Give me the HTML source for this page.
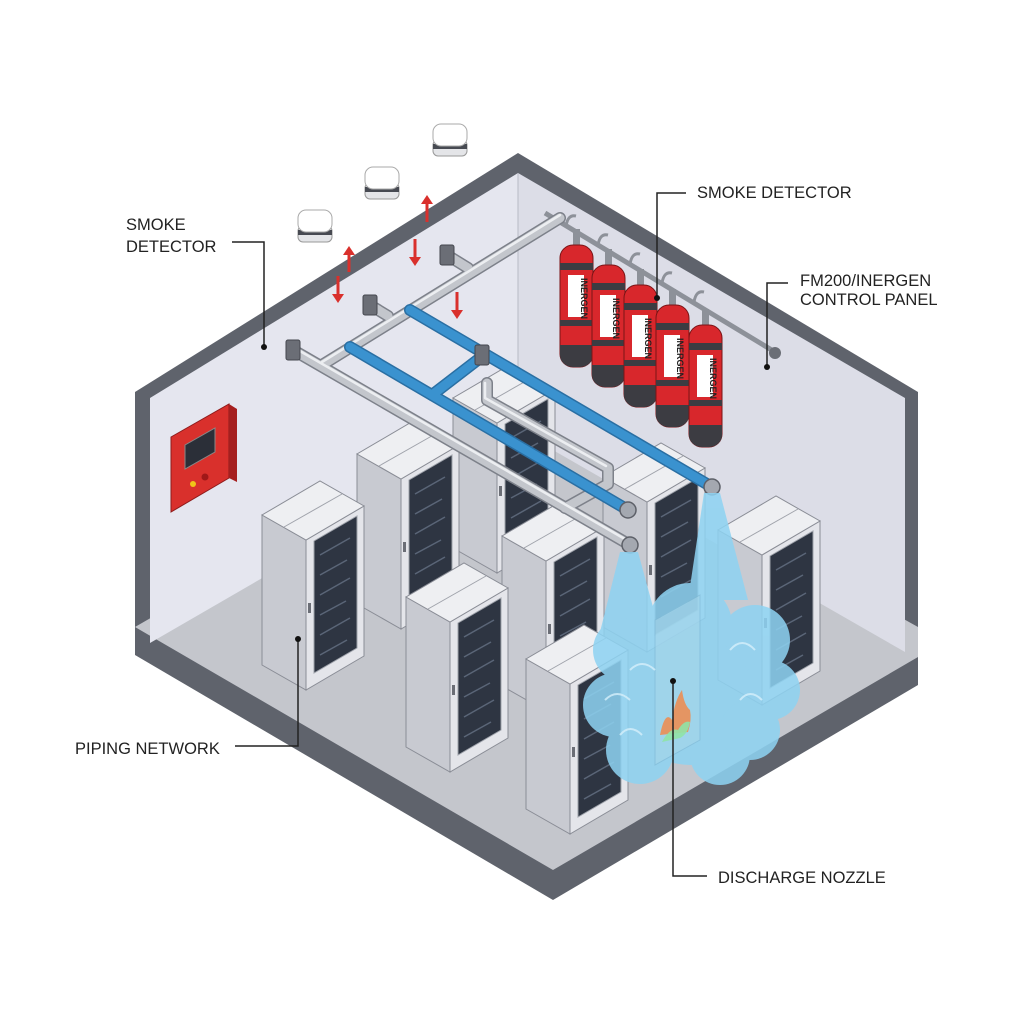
<!DOCTYPE html>
<html><head><meta charset="utf-8"><style>
html,body{margin:0;padding:0;background:#fff;}
svg{display:block;}
text{font-family:"Liberation Sans",sans-serif;fill:#222;}
</style></head><body>
<svg width="1024" height="1024" viewBox="0 0 1024 1024" xmlns="http://www.w3.org/2000/svg">
<defs>
<g id="rack">
  <polygon points="0,0 44,25 44,175 0,150" fill="#c8cad1" stroke="#8a8d96" stroke-width="1"/>
  <polygon points="44,25 102,-9 102,141 44,175" fill="#e4e5ea" stroke="#8a8d96" stroke-width="1"/>
  <polygon points="52,26 95,1 95,133 52,158" fill="#2e3542" stroke="#9ea2aa" stroke-width="1"/>
  <g stroke="#5a6577" stroke-width="1.5">
    <line x1="58" y1="40" x2="88" y2="23"/><line x1="58" y1="60" x2="85" y2="45"/>
    <line x1="58" y1="80" x2="88" y2="63"/><line x1="58" y1="100" x2="84" y2="86"/>
    <line x1="58" y1="120" x2="88" y2="103"/><line x1="58" y1="140" x2="85" y2="125"/>
  </g>
  <polygon points="0,0 44,25 102,-9 58,-34" fill="#eeeff2" stroke="#8a8d96" stroke-width="1"/>
  <line x1="22" y1="12" x2="80" y2="-21" stroke="#a0a3ab" stroke-width="1"/>
  <rect x="46" y="88" width="3" height="10" fill="#6b6e76"/>
</g>
</defs>

<!-- room shell -->
<polygon points="135,392 518,153 918,392 918,685 553,900 135,655" fill="#5f636c"/>
<polygon points="135,627 520,405 918,627 918,657 553,870" fill="#c4c6cc"/>
<polygon points="150,398 518,173 518,430 150,643" fill="#e5e6ef"/>
<polygon points="518,173 905,398 905,652 518,430" fill="#dcdde7"/>
<line x1="518" y1="173" x2="518" y2="430" stroke="#b8bac4" stroke-width="1"/>

<!-- control panel -->
<polygon points="171,437 229,404 229,478 171,512" fill="#d9302c" stroke="#8e1b1b" stroke-width="1"/>
<polygon points="229,404 237,409 237,482 229,478" fill="#a51f1f"/>
<polygon points="185,445 215,428 215,452 185,469" fill="#2b2f38" stroke="#888" stroke-width="1"/>
<circle cx="193" cy="484" r="3" fill="#f0c419"/>
<circle cx="205" cy="477" r="3.5" fill="#a01818"/>

<!-- racks -->
<use href="#rack" transform="translate(453,398)"/>
<use href="#rack" transform="translate(357,454)"/>
<use href="#rack" transform="translate(603,477)"/>
<use href="#rack" transform="translate(262,515)"/>
<use href="#rack" transform="translate(502,536)"/>
<use href="#rack" transform="translate(718,530)"/>
<use href="#rack" transform="translate(406,597)"/>
<use href="#rack" transform="translate(526,659)"/>

<!-- manifold -->
<g stroke="#8d9199" fill="none">
  <line x1="545" y1="213" x2="775" y2="352" stroke-width="5"/>
  <path d="M566 226 q2 -12 10 -10 M598 245 q2 -12 10 -10 M630 264 q2 -12 10 -10 M662 283 q2 -12 10 -10 M694 302 q2 -12 10 -10" stroke-width="3"/>
</g>
<circle cx="775" cy="353" r="6" fill="#6b6e76"/>

<!-- cylinders -->
<g>
  <g transform="translate(560,245)">
    <rect x="13" y="-16" width="7" height="18" fill="#8d9199"/>
    <rect x="0" y="0" width="33" height="122" rx="13" fill="#d8272c" stroke="#7a1416"/>
    <rect x="0" y="18" width="33" height="7" fill="#3c3c42"/><rect x="0" y="75" width="33" height="6" fill="#3c3c42"/>
    <path d="M0 100 h33 v10 a13 12 0 0 1 -13 12 h-7 a13 12 0 0 1 -13 -12z" fill="#3c3c42"/>
    <rect x="8" y="30" width="16" height="42" fill="#fff"/>
    <text transform="translate(21,33) rotate(90)" font-size="9" font-weight="bold" style="fill:#222">INERGEN</text>
  </g>
  <g transform="translate(592,265)">
    <rect x="13" y="-16" width="7" height="18" fill="#8d9199"/>
    <rect x="0" y="0" width="33" height="122" rx="13" fill="#d8272c" stroke="#7a1416"/>
    <rect x="0" y="18" width="33" height="7" fill="#3c3c42"/><rect x="0" y="75" width="33" height="6" fill="#3c3c42"/>
    <path d="M0 100 h33 v10 a13 12 0 0 1 -13 12 h-7 a13 12 0 0 1 -13 -12z" fill="#3c3c42"/>
    <rect x="8" y="30" width="16" height="42" fill="#fff"/>
    <text transform="translate(21,33) rotate(90)" font-size="9" font-weight="bold" style="fill:#222">INERGEN</text>
  </g>
  <g transform="translate(624,285)">
    <rect x="13" y="-16" width="7" height="18" fill="#8d9199"/>
    <rect x="0" y="0" width="33" height="122" rx="13" fill="#d8272c" stroke="#7a1416"/>
    <rect x="0" y="18" width="33" height="7" fill="#3c3c42"/><rect x="0" y="75" width="33" height="6" fill="#3c3c42"/>
    <path d="M0 100 h33 v10 a13 12 0 0 1 -13 12 h-7 a13 12 0 0 1 -13 -12z" fill="#3c3c42"/>
    <rect x="8" y="30" width="16" height="42" fill="#fff"/>
    <text transform="translate(21,33) rotate(90)" font-size="9" font-weight="bold" style="fill:#222">INERGEN</text>
  </g>
  <g transform="translate(656,305)">
    <rect x="13" y="-16" width="7" height="18" fill="#8d9199"/>
    <rect x="0" y="0" width="33" height="122" rx="13" fill="#d8272c" stroke="#7a1416"/>
    <rect x="0" y="18" width="33" height="7" fill="#3c3c42"/><rect x="0" y="75" width="33" height="6" fill="#3c3c42"/>
    <path d="M0 100 h33 v10 a13 12 0 0 1 -13 12 h-7 a13 12 0 0 1 -13 -12z" fill="#3c3c42"/>
    <rect x="8" y="30" width="16" height="42" fill="#fff"/>
    <text transform="translate(21,33) rotate(90)" font-size="9" font-weight="bold" style="fill:#222">INERGEN</text>
  </g>
  <g transform="translate(689,325)">
    <rect x="13" y="-16" width="7" height="18" fill="#8d9199"/>
    <rect x="0" y="0" width="33" height="122" rx="13" fill="#d8272c" stroke="#7a1416"/>
    <rect x="0" y="18" width="33" height="7" fill="#3c3c42"/><rect x="0" y="75" width="33" height="6" fill="#3c3c42"/>
    <path d="M0 100 h33 v10 a13 12 0 0 1 -13 12 h-7 a13 12 0 0 1 -13 -12z" fill="#3c3c42"/>
    <rect x="8" y="30" width="16" height="42" fill="#fff"/>
    <text transform="translate(21,33) rotate(90)" font-size="9" font-weight="bold" style="fill:#222">INERGEN</text>
  </g>
</g>

<!-- pipes -->
<g fill="none" stroke-linecap="round" stroke-linejoin="round">
  <g stroke="#7d818a" stroke-width="12">
    <path d="M293 350 L630 545"/><path d="M322 365 L560 218"/>
    <path d="M370 305 L388 316"/><path d="M447 255 L468 268"/>
    <path d="M487 383 L487 400 L608 468 L608 484 L565 508"/>
  </g>
  <g stroke="#c3c6cc" stroke-width="9">
    <path d="M293 350 L630 545"/><path d="M322 365 L560 218"/>
    <path d="M370 305 L388 316"/><path d="M447 255 L468 268"/>
    <path d="M487 383 L487 400 L608 468 L608 484 L565 508"/>
  </g>
  <g stroke="#eceef1" stroke-width="2.5">
    <path d="M293 347 L630 542"/><path d="M322 362 L560 215"/>
    <path d="M485 383 L485 398 L606 466"/>
  </g>
  <g stroke="#2a6fa3" stroke-width="12">
    <path d="M350 347 L628 510"/><path d="M410 310 L712 487"/><path d="M432 395 L484 355"/>
  </g>
  <g stroke="#3a92cf" stroke-width="9">
    <path d="M350 347 L628 510"/><path d="M410 310 L712 487"/><path d="M432 395 L484 355"/>
  </g>
</g>
<!-- brackets -->
<g fill="#6b6e76" stroke="#44474e">
  <rect x="286" y="340" width="14" height="20" rx="2"/>
  <rect x="363" y="295" width="14" height="20" rx="2"/>
  <rect x="440" y="245" width="14" height="20" rx="2"/>
  <rect x="475" y="345" width="14" height="20" rx="2"/>
</g>
<!-- nozzles -->
<g fill="#a4a8b0" stroke="#5d6068" stroke-width="1.5">
  <circle cx="630" cy="545" r="8"/><circle cx="628" cy="510" r="8"/><circle cx="712" cy="487" r="8"/>
</g>

<!-- cloud -->
<g opacity="0.86" fill="#8ed3f2">
  <polygon points="620,552 638,552 662,640 598,640"/>
  <polygon points="704,493 720,493 748,600 688,600"/>
  <circle cx="625" cy="650" r="32"/><circle cx="690" cy="625" r="42"/><circle cx="755" cy="640" r="35"/>
  <circle cx="770" cy="690" r="30"/><circle cx="615" cy="705" r="32"/><circle cx="690" cy="700" r="65"/>
  <circle cx="640" cy="750" r="34"/><circle cx="720" cy="755" r="30"/><circle cx="750" cy="730" r="30"/>
</g>
<polygon points="655,620 700,595 700,740 655,765" fill="#a7d6ea" opacity="0.6" stroke="#7fb8d4"/>
<path d="M660 735 q5 -25 12 -15 q3 -20 10 -30 q2 15 8 20 q2 10 -2 22 z" fill="#f08a4b" opacity="0.85"/>
<path d="M662 742 q8 -15 16 -12 q6 -10 12 -8 q-2 12 -10 16 z" fill="#8fe3a6" opacity="0.9"/>
<g fill="none" stroke="#d6f0fb" stroke-width="2" opacity="0.8">
  <path d="M605 700 q12 -12 25 0"/><path d="M630 670 q12 -12 25 0"/><path d="M730 650 q12 -14 25 0"/>
  <path d="M740 700 q10 -12 22 0"/><path d="M620 735 q10 -12 22 0"/>
</g>

<!-- smoke detectors -->
<g>
  <rect x="298" y="226" width="34" height="16" rx="5" fill="#e4e5e8" stroke="#999"/>
  <rect x="298" y="230" width="34" height="5" fill="#474a52"/>
  <rect x="298" y="210" width="34" height="22" rx="8" fill="#fff" stroke="#aaa"/>
  <rect x="365" y="183" width="34" height="16" rx="5" fill="#e4e5e8" stroke="#999"/>
  <rect x="365" y="187" width="34" height="5" fill="#474a52"/>
  <rect x="365" y="167" width="34" height="22" rx="8" fill="#fff" stroke="#aaa"/>
  <rect x="433" y="140" width="34" height="16" rx="5" fill="#e4e5e8" stroke="#999"/>
  <rect x="433" y="144" width="34" height="5" fill="#474a52"/>
  <rect x="433" y="124" width="34" height="22" rx="8" fill="#fff" stroke="#aaa"/>
</g>
<!-- red arrows -->
<g stroke="#d9302c" stroke-width="3" fill="#d9302c">
  <line x1="427" y1="222" x2="427" y2="204"/><polygon points="421,204 433,204 427,195" stroke="none"/>
  <line x1="349" y1="272" x2="349" y2="255"/><polygon points="343,255 355,255 349,246" stroke="none"/>
  <line x1="338" y1="276" x2="338" y2="294"/><polygon points="332,294 344,294 338,303" stroke="none"/>
  <line x1="415" y1="239" x2="415" y2="257"/><polygon points="409,257 421,257 415,266" stroke="none"/>
  <line x1="457" y1="292" x2="457" y2="310"/><polygon points="451,310 463,310 457,319" stroke="none"/>
</g>

<!-- labels & leaders -->
<g stroke="#222" stroke-width="1.5" fill="none">
  <polyline points="232,242 264,242 264,347"/>
  <polyline points="686,193 657,193 657,298"/>
  <polyline points="788,283 767,283 767,367"/>
  <polyline points="235,746 298,746 298,639"/>
  <polyline points="707,876 673,876 673,681"/>
</g>
<g fill="#111">
  <circle cx="264" cy="347" r="3"/><circle cx="657" cy="298" r="3"/><circle cx="767" cy="367" r="3"/>
  <circle cx="298" cy="639" r="3"/><circle cx="673" cy="681" r="3"/>
</g>
<g font-size="16.5">
  <text x="126" y="230">SMOKE</text>
  <text x="126" y="252">DETECTOR</text>
  <text x="697" y="198">SMOKE DETECTOR</text>
  <text x="800" y="286">FM200/INERGEN</text>
  <text x="800" y="305">CONTROL PANEL</text>
  <text x="75" y="754">PIPING NETWORK</text>
  <text x="718" y="883">DISCHARGE NOZZLE</text>
</g>
</svg>
</body></html>
